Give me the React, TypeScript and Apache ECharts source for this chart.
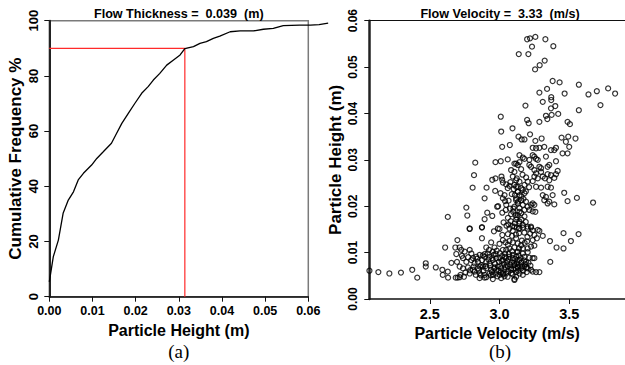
import React, { useEffect, useRef } from "react";
import * as echarts from "echarts";

// ---- Panel (a): cumulative frequency of particle height ----
const cdfHeight = [0, 0.00093, 0.0021, 0.0032, 0.0044, 0.0056, 0.0067, 0.0079, 0.0098, 0.011, 0.0125, 0.0144, 0.0156, 0.0168, 0.0183, 0.0198, 0.0214, 0.0229, 0.0241, 0.0256, 0.0272, 0.0287, 0.0303, 0.0314, 0.0334, 0.0349, 0.0364, 0.038, 0.0395, 0.0419, 0.0442, 0.0473, 0.0496, 0.0519, 0.0542, 0.058, 0.0605, 0.0625, 0.0646];
const cdfFreq = [5.4, 14.5, 20.5, 30.2, 35, 38, 42.3, 44.7, 47.7, 50.1, 52.5, 55.6, 59.2, 62.8, 66.4, 70, 73.7, 76.1, 78.5, 80.9, 83.9, 85.7, 87.6, 89.9, 90.6, 91.8, 92.4, 93.6, 94.4, 96, 96.3, 96.3, 96.9, 97.2, 98.2, 98.4, 98.4, 98.6, 99.1];
const refFreq = 90;
const refHeight = 0.0314;
const heightTicksA = [0, 0.06, 0.01];
const curveExtentMax = 0.065; // the curve runs past the frame's right edge
const freqTicks = [0, 100, 20];
const titleA = "Flow Thickness =  0.039  (m)";
const titleB = "Flow Velocity =  3.33  (m/s)";

// ---- Panel (b): particle velocity vs particle height ----
const velocityTicks = [2.5, 3.0, 3.5];
const velocityRange = [2.066, 3.9];
const heightTicksB = [0, 0.06, 0.01];

const upperPoints: [number, number][] = [
  [3.198, 0.056], [3.219, 0.0562], [3.257, 0.0565], [3.329, 0.056], [3.233, 0.0544], [3.386, 0.0545], [3.138, 0.0528], [3.207, 0.0528], [3.255, 0.0495], [3.288, 0.0504], [3.324, 0.0514],
  [3.381, 0.047], [3.431, 0.0467], [3.569, 0.0462], [3.286, 0.0445], [3.341, 0.0453], [3.467, 0.0443], [3.638, 0.0441], [3.698, 0.0448], [3.779, 0.0454], [3.829, 0.0443], [3.724, 0.0418], [3.569, 0.0407],
  [3.371, 0.0435], [3.371, 0.0429], [3.31, 0.0425], [3.186, 0.0417], [3.4, 0.0416], [3.369, 0.0411], [3.421, 0.0399], [3.374, 0.0397], [3.333, 0.0395], [3.343, 0.0388], [3.286, 0.0382], [3.198, 0.0386], [3.209, 0.0379], [3.009, 0.0393], [3.488, 0.0382], [3.505, 0.0377], [3.093, 0.0368], [3.012, 0.0361],
  [3.136, 0.035], [3.159, 0.0344], [3.179, 0.0344], [3.219, 0.0355], [3.302, 0.0346], [3.257, 0.0341], [3.445, 0.0348], [3.493, 0.035], [3.476, 0.0339], [3.545, 0.0346],
  [3.019, 0.0328], [3.074, 0.0332], [3.238, 0.0326], [3.262, 0.0325], [3.286, 0.0326], [3.321, 0.0328], [3.369, 0.0321], [3.393, 0.0321], [3.405, 0.0326], [3.452, 0.0314], [3.488, 0.0314], [3.5, 0.0328],
];

const middlePoints: [number, number][] = [
  [2.826, 0.0294], [2.971, 0.0295], [3.009, 0.0297], [3.059, 0.0301], [3.143, 0.031], [3.167, 0.0305], [3.179, 0.0302], [3.214, 0.03], [3.238, 0.031], [3.25, 0.0307], [3.262, 0.0302], [3.274, 0.03], [3.333, 0.0307], [3.405, 0.0297], [3.119, 0.0292], [3.143, 0.0295],
  [2.817, 0.0267], [2.948, 0.0257], [2.971, 0.026], [3.014, 0.0264], [3.019, 0.0257], [3.083, 0.0278], [3.107, 0.0274], [3.024, 0.0251], [3.048, 0.0247], [3.071, 0.0244], [3.059, 0.0239], [2.807, 0.024], [2.907, 0.024],
  [3.107, 0.0292], [3.131, 0.0289], [3.155, 0.028], [3.214, 0.0289], [3.226, 0.0285], [3.25, 0.0278], [3.286, 0.0285], [3.298, 0.0282], [3.345, 0.0285], [3.357, 0.0289], [3.417, 0.0276], [3.405, 0.0269], [3.393, 0.0261], [3.369, 0.0267], [3.345, 0.0269], [3.31, 0.0264], [3.326, 0.026], [3.357, 0.0256], [3.298, 0.0274], [3.262, 0.0271], [3.25, 0.0264], [3.274, 0.026], [3.202, 0.0253], [3.238, 0.0254], [3.179, 0.0246], [3.155, 0.0239], [3.131, 0.0231], [3.262, 0.0242], [3.298, 0.024], [3.345, 0.0242], [3.369, 0.024],
  [2.969, 0.0233], [2.893, 0.0217], [2.762, 0.0197], [2.769, 0.018], [2.629, 0.0177], [2.912, 0.0186], [2.948, 0.0179], [2.893, 0.0172], [2.786, 0.0152], [2.874, 0.0155], [2.983, 0.0199], [2.99, 0.02], [3.007, 0.0228], [3.036, 0.0224], [3.024, 0.0217], [3.04, 0.0211], [3.048, 0.0203],
  [3.119, 0.0256], [3.143, 0.0253], [3.107, 0.0246], [3.131, 0.0242], [3.167, 0.0235], [3.179, 0.0228], [3.143, 0.0224], [3.119, 0.0217], [3.155, 0.0213], [3.19, 0.021], [3.131, 0.0206], [3.167, 0.0203], [3.107, 0.0199], [3.143, 0.0196], [3.179, 0.0192], [3.202, 0.0199], [3.226, 0.0203], [3.25, 0.0203], [3.214, 0.0192], [3.238, 0.0189], [3.155, 0.0185], [3.131, 0.0181], [3.179, 0.0178], [3.119, 0.0171], [3.143, 0.0163], [3.167, 0.016], [3.202, 0.0156], [3.226, 0.0154],
  [3.095, 0.0264], [3.124, 0.026], [3.119, 0.0242], [3.131, 0.0231], [3.11, 0.0224], [3.119, 0.0213], [3.1, 0.0195], [3.083, 0.0183], [3.114, 0.0181], [3.029, 0.0165], [3.064, 0.0161], [3.091, 0.0157], [3.143, 0.0167], [3.133, 0.021], [3.143, 0.0188], [3.138, 0.0152], [2.988, 0.0152],
  [3.045, 0.0192], [3.06, 0.0175], [3.02, 0.0186], [3.075, 0.0195], [3.08, 0.0168], [3.05, 0.0158], [3.238, 0.0206], [3.257, 0.0188],
  [3.31, 0.0224], [3.333, 0.022], [3.321, 0.0213], [3.357, 0.021], [3.393, 0.0204], [3.345, 0.0206], [3.381, 0.0224], [3.464, 0.0229], [3.555, 0.0218], [3.488, 0.0211], [3.671, 0.0208],
  [3.065, 0.0212], [3.088, 0.0226], [3.102, 0.0237], [3.158, 0.0221], [3.172, 0.0216], [3.189, 0.0232], [3.212, 0.0241], [3.078, 0.0252], [3.165, 0.0268], [3.191, 0.0262], [3.098, 0.0188], [3.122, 0.0176], [3.158, 0.0171], [3.188, 0.0166], [3.109, 0.0163],
];

const lowerMidPoints: [number, number][] = [
  [2.786, 0.0151], [2.874, 0.0154], [2.874, 0.0131], [3.0, 0.0151], [3.071, 0.0152], [3.095, 0.0147], [3.124, 0.0154], [3.024, 0.0127], [3.043, 0.0122], [3.071, 0.0125], [3.095, 0.0122], [3.119, 0.0131],
  [3.107, 0.0156], [3.143, 0.0152], [3.167, 0.0154], [3.202, 0.0152], [3.226, 0.0156], [3.274, 0.0149], [3.286, 0.0147], [3.25, 0.0138], [3.31, 0.0136], [3.238, 0.0127], [3.131, 0.012], [3.155, 0.0116], [3.167, 0.0109], [3.202, 0.0109], [3.226, 0.0113], [3.25, 0.0115],
  [3.362, 0.0125], [3.459, 0.0142], [3.567, 0.014], [3.512, 0.0125], [3.409, 0.0111], [3.459, 0.0109], [3.364, 0.008],
  [2.61, 0.0111], [2.698, 0.0127], [2.683, 0.0111], [2.69, 0.0097], [2.714, 0.0111],
  [3.16, 0.0126], [3.18, 0.0121], [3.2, 0.0134], [3.22, 0.0141], [3.14, 0.0142], [3.09, 0.0136], [3.06, 0.014], [3.02, 0.0138], [2.96, 0.0146], [3.06, 0.0117], [3.0, 0.0119], [2.94, 0.0122],
  [3.178, 0.0143], [3.198, 0.0124], [3.118, 0.0139], [3.238, 0.0148], [3.268, 0.0131],
];

const clusterPoints: [number, number][] = [
  [2.905, 0.0111], [2.964, 0.0111], [2.952, 0.0102], [3.024, 0.0106], [3.048, 0.0106], [3.071, 0.0109], [3.107, 0.0111],
  [2.726, 0.0106], [2.75, 0.0102], [2.786, 0.0106], [2.798, 0.0098], [2.833, 0.0091], [2.857, 0.0095], [2.893, 0.0091], [2.929, 0.0091],
  [2.738, 0.0088], [2.762, 0.008], [2.798, 0.0084], [2.821, 0.0077], [2.845, 0.008], [2.869, 0.0073], [2.905, 0.008], [2.929, 0.0077], [2.952, 0.0084], [2.976, 0.0088], [3.0, 0.0088], [3.024, 0.0084], [3.048, 0.0088], [3.071, 0.0091], [3.095, 0.0088], [3.119, 0.0091], [3.131, 0.0084],
  [2.714, 0.007], [2.738, 0.0066], [2.774, 0.0068], [2.81, 0.0063], [2.845, 0.0066], [2.881, 0.007], [2.905, 0.0066], [2.94, 0.0063], [2.964, 0.0068], [2.988, 0.007], [3.012, 0.0066], [3.036, 0.0063], [3.06, 0.007], [3.083, 0.0066], [3.107, 0.0073], [3.131, 0.007],
  [2.786, 0.0055], [2.821, 0.0059], [2.857, 0.0055], [2.893, 0.0052], [2.929, 0.0055], [2.952, 0.0052], [2.976, 0.0055], [3.0, 0.0052], [3.024, 0.0053], [3.048, 0.0055], [3.095, 0.0053],
  [2.857, 0.0045], [2.893, 0.0046], [2.952, 0.0043], [3.012, 0.0045], [3.107, 0.0041],
  [3.131, 0.0102], [3.167, 0.0098], [3.202, 0.0101], [3.179, 0.0091], [3.214, 0.0089], [3.238, 0.0088], [3.143, 0.0084], [3.19, 0.008], [3.25, 0.0088],
  [3.107, 0.0073], [3.131, 0.0068], [3.155, 0.0066], [3.179, 0.007], [3.202, 0.0066], [3.226, 0.0063], [3.238, 0.0059], [3.262, 0.0058], [3.286, 0.0058], [3.143, 0.0055], [3.167, 0.0052], [3.119, 0.0048], [3.107, 0.0043],
  [2.915, 0.0098], [2.935, 0.0072], [2.945, 0.0058], [2.958, 0.0095], [2.968, 0.0076], [2.978, 0.0062], [2.985, 0.0049], [2.995, 0.008], [3.005, 0.0071], [3.01, 0.0058], [3.018, 0.0093], [3.03, 0.0076], [3.035, 0.0049], [3.042, 0.0069], [3.055, 0.0081], [3.062, 0.006], [3.068, 0.0097], [3.078, 0.0074], [3.085, 0.0056], [3.09, 0.0079], [3.1, 0.0064], [3.112, 0.0086], [3.12, 0.0058], [3.125, 0.0077], [3.138, 0.0094], [3.148, 0.0072], [3.158, 0.0079], [3.17, 0.0061], [3.185, 0.0075], [3.195, 0.0058],
  [2.875, 0.0084], [2.885, 0.0061], [2.895, 0.0097], [2.86, 0.007], [2.84, 0.0087], [2.83, 0.0052], [2.815, 0.007], [2.79, 0.0062], [2.775, 0.009], [2.755, 0.0057], [2.745, 0.0048], [2.73, 0.0093], [2.905, 0.0047], [2.92, 0.0085], [2.98, 0.0104], [3.04, 0.0098], [3.09, 0.0103], [3.14, 0.0109],
  [2.925, 0.0106], [2.948, 0.0088], [2.962, 0.0066], [2.972, 0.0097], [2.992, 0.0061], [3.002, 0.0099], [3.015, 0.0082], [3.026, 0.0056], [3.038, 0.0091], [3.052, 0.0074], [3.058, 0.0048], [3.066, 0.0086], [3.082, 0.0063], [3.094, 0.0095], [3.104, 0.0078], [3.116, 0.0066], [3.128, 0.0101], [3.134, 0.0061], [3.152, 0.0088], [3.163, 0.007], [3.176, 0.0083], [3.192, 0.0068], [3.208, 0.0078], [3.222, 0.0072], [2.938, 0.0051], [2.9, 0.0071], [2.88, 0.0094], [2.852, 0.0062], [2.866, 0.0051], [2.81, 0.0088],
];

const tailPoints: [number, number][] = [
  [2.067, 0.0061], [2.131, 0.0058], [2.21, 0.0055], [2.293, 0.0057], [2.374, 0.0063], [2.41, 0.0046], [2.471, 0.0077], [2.471, 0.007], [2.543, 0.0068], [2.59, 0.0063], [2.593, 0.0052], [2.631, 0.0046], [2.629, 0.0059], [2.655, 0.0078], [2.686, 0.0046], [2.695, 0.008], [2.7, 0.0046], [2.714, 0.0047], [2.72, 0.0052],
];

const FONT = "'Liberation Sans', Arial, Helvetica, sans-serif";

export default function App() {
  const ref = useRef<HTMLDivElement>(null);
  useEffect(() => {
    if (!ref.current) return;
    const chart = echarts.init(ref.current, null, { renderer: "svg" });
    const allPoints = [...upperPoints, ...middlePoints, ...lowerMidPoints, ...clusterPoints, ...tailPoints];
    const lineData = cdfHeight.map((h, i) => [h, cdfFreq[i]]);
    const refLine = [[heightTicksA[0], refFreq], [refHeight, refFreq], [refHeight, freqTicks[0]]];
    const lbl = { fontFamily: FONT, fontWeight: "bold" as const, color: "#000" };
    const gridAWidth = 259;
    const hidden = {
      show: false, splitLine: { show: false }, axisLine: { show: false }, axisTick: { show: false }, axisLabel: { show: false },
    };

    chart.setOption({
      animation: false,
      backgroundColor: "#fff",
      grid: [
        { left: 49.3, top: 20.7, width: gridAWidth, height: 276, show: true, borderColor: "#7a7a7a", borderWidth: 1.5 },
        { left: 369.3, top: 20.7, width: 256.8, height: 278.3 },
        // same scale as grid 0, extended to the right so the curve may overrun the frame
        { left: 49.3, top: 20.7, width: gridAWidth * (curveExtentMax - heightTicksA[0]) / (heightTicksA[1] - heightTicksA[0]), height: 276 },
      ],
      xAxis: [
        {
          gridIndex: 0, type: "value", min: heightTicksA[0], max: heightTicksA[1], interval: heightTicksA[2],
          splitLine: { show: false },
          axisLine: { show: true, lineStyle: { color: "#111", width: 1.5 } },
          axisTick: { show: true, length: 5, lineStyle: { color: "#111", width: 1 } },
          axisLabel: { ...lbl, fontSize: 12.5, margin: 8, formatter: (v: number) => v.toFixed(2) },
          name: "Particle Height (m)", nameLocation: "middle", nameGap: 23,
          nameTextStyle: { ...lbl, fontSize: 16 },
        },
        {
          gridIndex: 1, type: "value", min: velocityRange[0], max: velocityRange[1],
          splitLine: { show: false },
          axisLine: { show: true, lineStyle: { color: "#111", width: 1.5 } },
          axisTick: { show: true, length: 5, customValues: velocityTicks, lineStyle: { color: "#111", width: 1 } },
          axisLabel: { ...lbl, fontSize: 14.5, margin: 7, customValues: velocityTicks, formatter: (v: number) => v.toFixed(1) },
          name: "Particle Velocity (m/s)", nameLocation: "middle", nameGap: 21,
          nameTextStyle: { ...lbl, fontSize: 16 },
        },
        {
          gridIndex: 1, type: "value", position: "top", min: velocityRange[0], max: velocityRange[1],
          splitLine: { show: false },
          axisLine: { show: true, lineStyle: { color: "#111", width: 1 } },
          axisTick: { show: false }, axisLabel: { show: false },
        },
        { gridIndex: 2, type: "value", min: heightTicksA[0], max: curveExtentMax, ...hidden },
      ],
      yAxis: [
        {
          gridIndex: 0, type: "value", min: freqTicks[0], max: freqTicks[1], interval: freqTicks[2],
          splitLine: { show: false },
          axisLine: { show: true, lineStyle: { color: "#222", width: 2 } },
          axisTick: { show: true, length: 5, lineStyle: { color: "#111", width: 1 } },
          axisLabel: { ...lbl, fontSize: 13, rotate: 90, margin: 9 },
          name: "Cumulative Frequency %", nameLocation: "middle", nameGap: 25,
          nameTextStyle: { ...lbl, fontSize: 17 },
        },
        {
          gridIndex: 1, type: "value", min: heightTicksB[0], max: heightTicksB[1], interval: heightTicksB[2],
          splitLine: { show: false },
          axisLine: { show: true, lineStyle: { color: "#222", width: 2.5 } },
          axisTick: { show: true, length: 5, lineStyle: { color: "#111", width: 1 } },
          axisLabel: { ...lbl, fontSize: 12, rotate: 90, margin: 10, formatter: (v: number) => v.toFixed(2) },
          name: "Particle Height (m)", nameLocation: "middle", nameGap: 25,
          nameTextStyle: { ...lbl, fontSize: 17 },
        },
        { gridIndex: 2, type: "value", min: freqTicks[0], max: freqTicks[1], ...hidden },
      ],
      series: [
        {
          type: "line", xAxisIndex: 0, yAxisIndex: 0, data: refLine, showSymbol: false, symbol: "none",
          lineStyle: { color: "#ff2a2a", width: 1.2 }, clip: false, z: 3,
        },
        {
          type: "line", xAxisIndex: 3, yAxisIndex: 2, data: lineData, showSymbol: false, symbol: "none",
          lineStyle: { color: "#000", width: 1.3 }, clip: false, z: 4,
        },
        {
          type: "scatter", xAxisIndex: 1, yAxisIndex: 1, data: allPoints, symbol: "circle", symbolSize: 5,
          itemStyle: { color: "rgba(255,255,255,0)", borderColor: "#000", borderWidth: 1.2 }, clip: false,
        },
      ],
      graphic: [
        { type: "text", x: 178.8, y: 14, style: { text: titleA, fontFamily: FONT, fontWeight: "bold", fontSize: 12.6, fill: "#000", textAlign: "center", textVerticalAlign: "middle" } },
        { type: "text", x: 500, y: 14, style: { text: titleB, fontFamily: FONT, fontWeight: "bold", fontSize: 12.6, fill: "#000", textAlign: "center", textVerticalAlign: "middle" } },
        { type: "text", x: 178.8, y: 351, style: { text: "(a)", fontFamily: "'Liberation Serif', 'Times New Roman', serif", fontSize: 19, fill: "#000", textAlign: "center", textVerticalAlign: "middle" } },
        { type: "text", x: 500, y: 351, style: { text: "(b)", fontFamily: "'Liberation Serif', 'Times New Roman', serif", fontSize: 19, fill: "#000", textAlign: "center", textVerticalAlign: "middle" } },
      ],
    });
    return () => chart.dispose();
  }, []);
  return <div ref={ref} style={{ position: "fixed", left: 0, top: 0, width: 625, height: 365, background: "#fff" }} />;
}
